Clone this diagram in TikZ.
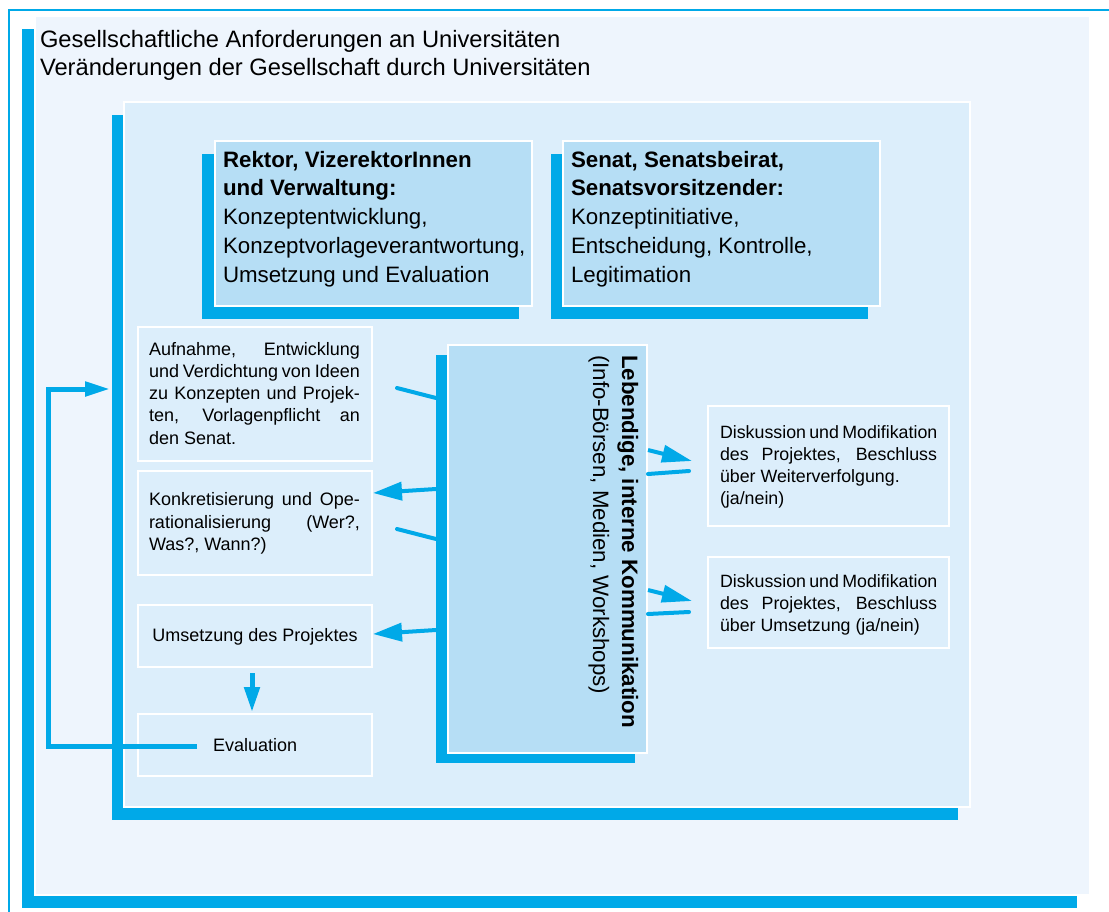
\documentclass[tikz,border=0pt]{standalone}
\usepackage{fontspec}
\setmainfont{Liberation Sans}
\usetikzlibrary{arrows.meta,shadows}
\definecolor{cy}{RGB}{0,169,232}
\definecolor{outerbg}{RGB}{238,245,253}
\definecolor{innerbg}{RGB}{220,238,251}
\definecolor{boxbg}{RGB}{182,222,245}
\begin{document}
\begin{tikzpicture}[x=1bp,y=-1bp,
  panel/.style={draw=white, line width=2bp, anchor=north west, inner sep=0pt, outer sep=0pt},
  smallbox/.style={draw=white, line width=1.2bp, fill=innerbg, anchor=north west, inner sep=0pt, outer sep=0pt},
  shad/.style={drop shadow={shadow xshift=#1, shadow yshift=-13bp, fill=cy, opacity=1}},
  txt/.style={anchor=base west, inner sep=0pt, outer sep=0pt},
  bigfont/.style={font=\fontsize{22.3bp}{28.8bp}\selectfont},
  smallfont/.style={font=\fontsize{18bp}{22.3bp}\selectfont},
  rfont/.style={font=\fontsize{17.8bp}{22.3bp}\selectfont},
  arr/.style={draw=cy, line width=4bp, -{Triangle[length=29bp,width=18bp]}},
  rarr/.style={draw=cy, line width=4bp, -{Triangle[length=30bp,width=17bp]}},
  cut/.style={draw=cy, line width=4bp, line cap=round}
]
\useasboundingbox (0,0) rectangle (1109,912);
% thin outer frame
\draw[cy, line width=2bp] (8.5,912) -- (8.5,9.5) -- (1109,9.5);
% outer panel
\node[panel, fill=outerbg, minimum width=1055bp, minimum height=879bp,
      shad=-13bp] (outer) at (35,16) {};
\node[txt, font=\fontsize{23.7bp}{25bp}\selectfont] (h1) at (40,47) {Gesellschaftliche Anforderungen an Universitäten};
\node[txt, font=\fontsize{23.7bp}{25bp}\selectfont] (h2) at (40,75) {Veränderungen der Gesellschaft durch Universitäten};
% inner panel
\node[panel, fill=innerbg, minimum width=846bp, minimum height=705bp,
      shad=-12bp] (inner) at (124,102) {};
% top boxes
\node[panel, line width=1.5bp, fill=boxbg, minimum width=317bp, minimum height=165bp,
      shad=-13bp] (rek) at (215,141) {};
\node[panel, line width=1.5bp, fill=boxbg, minimum width=317bp, minimum height=165bp,
      shad=-12bp] (sen) at (563,141) {};
\node[txt, bigfont] (rektxt) at (223,167) {\parbox[t]{305bp}{\raggedright\bfseries Rektor, VizerektorInnen\\und Verwaltung:\\\mdseries Konzeptentwicklung,\\Konzeptvorlageverantwortung,\\Umsetzung und Evaluation}};
\node[txt, bigfont] (sentxt) at (571,167) {\parbox[t]{305bp}{\raggedright\bfseries Senat, Senatsbeirat,\\Senatsvorsitzender:\\\mdseries Konzeptinitiative,\\Entscheidung, Kontrolle,\\Legitimation}};
% communication box
\node[panel, line width=1.5bp, fill=boxbg, minimum width=199bp, minimum height=408bp,
      drop shadow={shadow xshift=-12bp, shadow yshift=-10bp, fill=cy, opacity=1}] (komm) at (448,345) {};
\node[txt, bigfont, rotate=-90] (kommtxt) at (622,355) {\parbox[t]{400bp}{\raggedright\bfseries Lebendige, interne Kommunikation\\\mdseries (Info-Börsen, Medien, Workshops)}};
% left boxes
\node[smallbox, minimum width=234bp, minimum height=134bp] (b1) at (138,327) {};
\node[smallbox, minimum width=234bp, minimum height=104bp] (b2) at (138,471) {};
\node[smallbox, minimum width=234bp, minimum height=62bp] (b3) at (138,605) {};
\node[smallbox, minimum width=234bp, minimum height=62bp] (b4) at (138,714) {};
\node[txt, smallfont] (b1txt) at (149,355) {\parbox[t]{215bp}{\makebox[211bp][s]{Aufnahme, Entwicklung}\\\makebox[211bp][s]{und Verdichtung von Ideen}\\\makebox[211bp][s]{zu Konzepten und Projek-}\\\makebox[211bp][s]{ten, Vorlagenpflicht an}\\den Senat.}};
\node[txt, smallfont] (b2txt) at (149,505.7) {\parbox[t]{215bp}{\makebox[211bp][s]{Konkretisierung und Ope-}\\\makebox[211bp][s]{rationalisierung (Wer?,}\\Was?, Wann?)}};
\node[anchor=base, inner sep=0pt, smallfont] (b3txt) at (255,641.7) {Umsetzung des Projektes};
\node[txt, smallfont] (b4txt) at (213,751) {Evaluation};
% right boxes
\node[smallbox, minimum width=241bp, minimum height=120bp] (r1) at (708,406) {};
\node[smallbox, minimum width=241bp, minimum height=91bp] (r2) at (708,557) {};
\node[txt, rfont] (r1txt) at (720,438) {\parbox[t]{222bp}{\makebox[217bp][s]{Diskussion und Modifikation}\\\makebox[217bp][s]{des Projektes, Beschluss}\\über Weiterverfolgung.\\(ja/nein)}};
\node[txt, rfont] (r2txt) at (720,587) {\parbox[t]{222bp}{\makebox[217bp][s]{Diskussion und Modifikation}\\\makebox[217bp][s]{des Projektes, Beschluss}\\über Umsetzung (ja/nein)}};
% connector end points
\coordinate (c1a) at (397,388);  \coordinate (c1b) at (436,398);
\coordinate (a2s) at (436,489);  \coordinate (a2t) at (373,493);
\coordinate (c2a) at (397,529);  \coordinate (c2b) at (436,539);
\coordinate (a3s) at (436,630);  \coordinate (a3t) at (373,634);
\coordinate (r1s) at (648,450);  \coordinate (r1t) at (692,461);
\coordinate (r1la) at (648,474); \coordinate (r1lb) at (689,471);
\coordinate (r2s) at (648,590);  \coordinate (r2t) at (692,601);
\coordinate (r2la) at (648,614); \coordinate (r2lb) at (689,612);
\coordinate (dA) at (252,673);   \coordinate (dB) at (252,712);
\coordinate (lpA) at (197,746);  \coordinate (lpB) at (48,746);
\coordinate (lpT) at (110,389);
% connectors
\draw[cut] (c1a) -- (c1b);
\draw[arr] (a2s) -- (a2t);
\draw[cut] (c2a) -- (c2b);
\draw[arr] (a3s) -- (a3t);
\draw[rarr] (r1s) -- (r1t);
\draw[cut] (r1la) -- (r1lb);
\draw[rarr] (r2s) -- (r2t);
\draw[cut] (r2la) -- (r2lb);
\draw[draw=cy, line width=5bp, -{Triangle[length=25bp,width=15bp]}] (dA) -- (dB);
\draw[draw=cy, line width=5bp, -{Triangle[length=25bp,width=14bp]}] (lpA) -- (lpB) |- (lpT);
\end{tikzpicture}
\end{document}
